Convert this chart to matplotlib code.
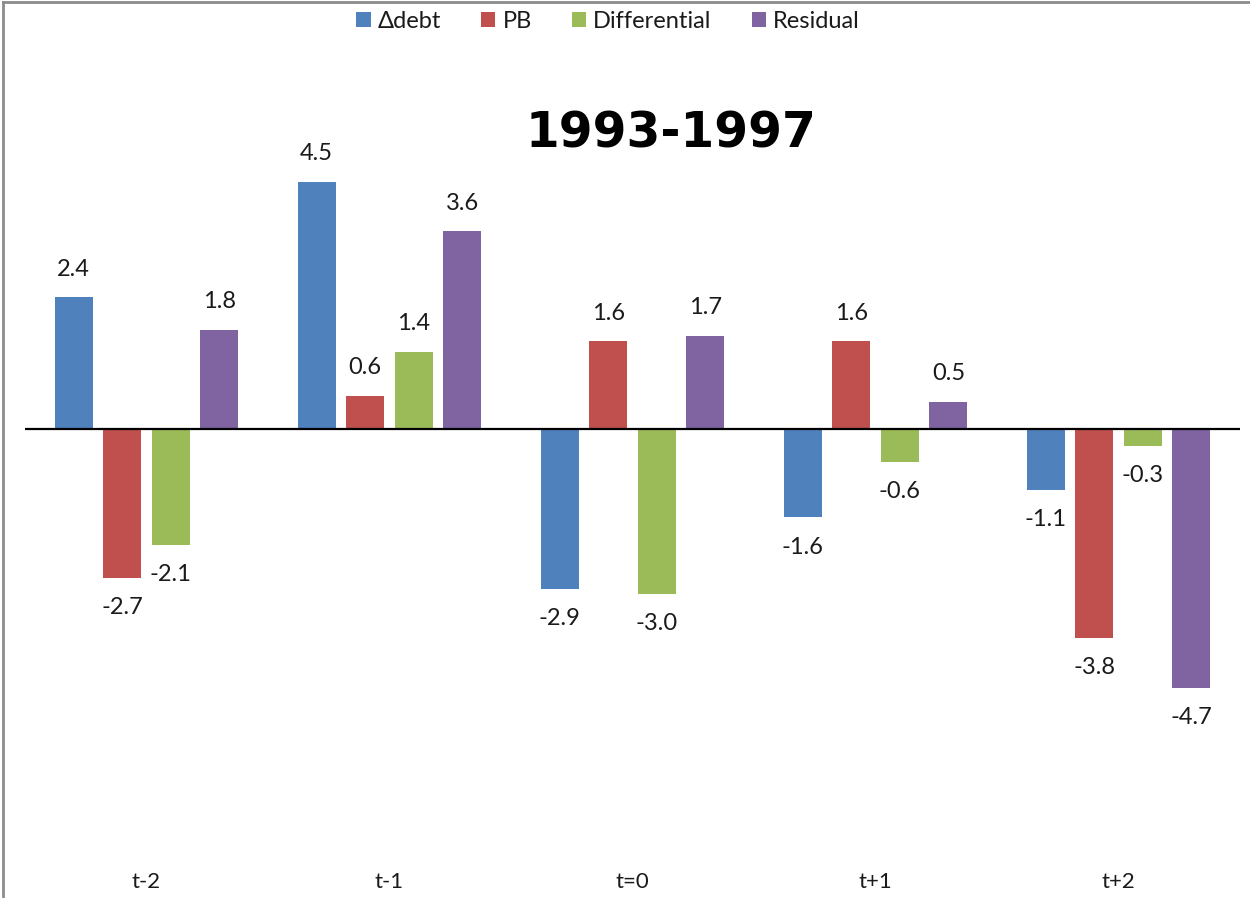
import matplotlib
matplotlib.use("Agg")
import matplotlib.pyplot as plt
import numpy as np
from matplotlib.patches import Patch
from matplotlib.lines import Line2D

periods = ["t-2", "t-1", "t=0", "t+1", "t+2"]
series_names = ["\u0394debt", "PB", "Differential", "Residual"]
delta_debt = [2.4, 4.5, -2.9, -1.6, -1.1]
pb = [-2.7, 0.6, 1.6, 1.6, -3.8]
differential = [-2.1, 1.4, -3.0, -0.6, -0.3]
residual = [1.8, 3.6, 1.7, 0.5, -4.7]
colors = ["#4F81BD", "#C0504D", "#9BBB59", "#8064A2"]
title = "1993-1997"

plt.rcParams["font.family"] = ["Lato", "DejaVu Sans"]

W, H = 1250, 898
fig = plt.figure(figsize=(W / 100, H / 100), dpi=100)
ax = fig.add_axes([25 / W, 1 - 869 / H, 1215 / W, (869 - 99) / H])

x = np.arange(len(periods))
step = 0.2
width = 0.156
all_series = [delta_debt, pb, differential, residual]
for i, (vals, col) in enumerate(zip(all_series, colors)):
    pos = x + (i - 1.5) * step
    ax.bar(pos, vals, width=width, color=col, edgecolor="none", zorder=2)
    for px, v in zip(pos, vals):
        off = 28 if v >= 0 else -30
        ax.annotate(f"{v:.1f}", (px, v), xytext=(0, off), textcoords="offset pixels",
                    ha="center", va="center", fontsize=17, color="#1a1a1a")

ax.axhline(0, color="black", lw=1.6, zorder=3)
ax.set_xlim(-0.5, len(periods) - 0.5)
ax.set_ylim(-8, 6)
ax.set_xticks(x)
ax.set_xticklabels(periods, fontsize=16, color="#1a1a1a")
ax.tick_params(axis="x", length=0, pad=2)
ax.set_yticks([])
for s in ax.spines.values():
    s.set_visible(False)

fig.text(671 / W, 1 - 133 / H, title, ha="center", va="center",
         fontsize=35, fontweight="bold", family="DejaVu Sans", color="black")

handles = [Patch(facecolor=c, edgecolor="none") for c in colors]
fig.legend(handles, series_names, loc="center", bbox_to_anchor=(608 / W, 1 - 21 / H),
           ncol=4, frameon=False, fontsize=17, handlelength=0.6, handleheight=0.6,
           handletextpad=0.3, columnspacing=1.7, labelcolor="#1a1a1a")

# outer chart frame (left and top edges)
fig.add_artist(Line2D([3 / W, 3 / W], [0, 1 - 2 / H], color="#8c8c8c", lw=2,
                      transform=fig.transFigure))
fig.add_artist(Line2D([3 / W, 1], [1 - 2 / H, 1 - 2 / H], color="#8c8c8c", lw=2,
                      transform=fig.transFigure))

fig.savefig("out.png", dpi=100, facecolor="white")
